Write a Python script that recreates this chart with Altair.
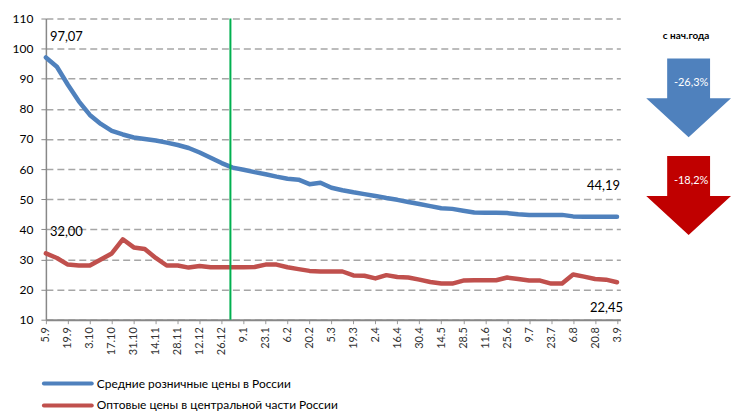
import altair as alt
import pandas as pd

# ---- data ----
tick_labels = ['5.9', '19.9', '3.10', '17.10', '31.10', '14.11', '28.11', '12.12', '26.12',
               '9.1', '23.1', '6.2', '20.2', '5.3', '19.3', '2.4', '16.4', '30.4', '14.5',
               '28.5', '11.6', '25.6', '9.7', '23.7', '6.8', '20.8', '3.9']

retail = [97.07, 94.0, 88.0, 82.5, 78.0, 75.0, 72.7, 71.5, 70.5, 70.0,
          69.5, 68.8, 68.0, 67.0, 65.5, 63.8, 62.0, 60.5, 59.8, 59.0,
          58.3, 57.5, 56.8, 56.5, 55.0, 55.5, 53.8, 53.0, 52.3, 51.7,
          51.1, 50.4, 49.8, 49.1, 48.4, 47.7, 47.0, 46.8, 46.2, 45.6,
          45.5, 45.5, 45.4, 45.0, 44.8, 44.8, 44.8, 44.8, 44.3, 44.2,
          44.2, 44.2, 44.19]

wholesale = [32.0, 30.5, 28.3, 28.0, 28.0, 30.0, 32.0, 36.7, 34.0, 33.5,
             30.5, 28.0, 28.0, 27.3, 27.8, 27.4, 27.4, 27.4, 27.4, 27.5,
             28.3, 28.3, 27.4, 26.8, 26.2, 26.0, 26.0, 26.0, 24.7, 24.6,
             23.7, 24.8, 24.2, 24.0, 23.3, 22.5, 22.0, 22.0, 23.0, 23.1,
             23.1, 23.1, 24.0, 23.5, 23.0, 23.0, 22.0, 22.0, 25.0, 24.3,
             23.5, 23.3, 22.45]

series_names = ['Средние розничные цены в России', 'Оптовые цены в центральной части России']
series_colors = ['#4F81BD', '#C0504D']
year_start_index = [16.8]
ytd_changes = ['-26,3%', '-18,2%']
arrow_colors = ['#4F81BD', '#C00000']
ytd_title = 'с нач.года'

FONT = 'Lato, Noto Sans, sans-serif'

# ---- tables ----
rows = []
for name, vals in zip(series_names, [retail, wholesale]):
    for i, v in enumerate(vals):
        rows.append({'i': i, 'v': v, 's': name})
df = pd.DataFrame(rows)

label_js = '[' + ','.join("'%s'" % t for t in tick_labels) + ']'

xscale = alt.Scale(domain=[0, 52.3], nice=False, zero=False)
yscale = alt.Scale(domain=[10, 110], nice=False, zero=False)

x_enc = alt.X('i:Q', scale=xscale, title=None,
              axis=alt.Axis(values=list(range(0, 53, 2)), tickCount=100,
                            labelExpr=label_js + '[datum.value/2]',
                            labelAngle=270, labelFontSize=11, labelFont=FONT, labelColor='#333333',
                            labelPadding=3, labelOverlap=False, labelBound=False, labelFlush=False,
                            tickSize=4, tickColor='#9A9A9A', tickWidth=1,
                            domainColor='#888888', domainWidth=2, grid=False))
y_enc = alt.Y('v:Q', scale=yscale, title=None,
              axis=alt.Axis(values=list(range(10, 111, 10)), tickCount=100,
                            labelFontSize=12, labelFont=FONT,
                            labelColor='#000000', labelPadding=8, labelOverlap=False,
                            labelBound=False, labelFlush=False, tickSize=5, tickColor='#888888',
                            domainColor='#888888', domainWidth=1.5,
                            grid=True, gridDash=[7, 4], gridColor='#A6A6A6', gridWidth=1.5))

lines = alt.Chart(df).mark_line(strokeWidth=4.5, strokeCap='round', strokeJoin='round').encode(
    x=x_enc, y=y_enc,
    color=alt.Color('s:N', scale=alt.Scale(domain=series_names, range=series_colors), legend=None),
)

green = alt.Chart(pd.DataFrame({'i': year_start_index})).mark_rule(color='#00B050', strokeWidth=2).encode(
    x=alt.X('i:Q', scale=xscale)
)

def fmt(v):
    return ('%.2f' % v).replace('.', ',')

ann = pd.DataFrame([
    {'i': 0, 'v': retail[0], 't': fmt(retail[0])},
    {'i': 0, 'v': wholesale[0], 't': fmt(wholesale[0])},
])
ann_end_top = pd.DataFrame([{'i': len(retail) - 1, 'v': retail[-1], 't': fmt(retail[-1])}])
ann_end_bot = pd.DataFrame([{'i': len(wholesale) - 1, 'v': wholesale[-1], 't': fmt(wholesale[-1])}])

ann_start = alt.Chart(ann).mark_text(align='left', baseline='middle', dx=4, dy=-21,
                                     fontSize=13, font=FONT, color='#000000').encode(
    x=alt.X('i:Q', scale=xscale), y=alt.Y('v:Q', scale=yscale), text='t:N')
ann_top = alt.Chart(ann_end_top).mark_text(align='right', baseline='middle', dx=3, dy=-31,
                                           fontSize=13, font=FONT, color='#000000').encode(
    x=alt.X('i:Q', scale=xscale), y=alt.Y('v:Q', scale=yscale), text='t:N')
ann_bot = alt.Chart(ann_end_bot).mark_text(align='right', baseline='middle', dx=6, dy=26,
                                           fontSize=13, font=FONT, color='#000000').encode(
    x=alt.X('i:Q', scale=xscale), y=alt.Y('v:Q', scale=yscale), text='t:N')

# ---- right-side arrows ----
arrow_path = 'M -0.506 -0.93 L 0.506 -0.93 L 0.506 0.012 L 1 0.012 L 0 0.93 L -1 0.012 L -0.506 0.012 Z'
arrow_layers = []
for k, (lab, col) in enumerate(zip(ytd_changes, arrow_colors)):
    cy = 79.5 + 98 * k
    one = pd.DataFrame({'t': [lab]})
    arrow_layers.append(alt.Chart(one).mark_point(shape=arrow_path, size=7225, filled=True,
                                                  fill=col, opacity=1, strokeWidth=0).encode(
        x=alt.value(644.5), y=alt.value(cy)))
    arrow_layers.append(alt.Chart(one).mark_text(align='center', baseline='middle', fontSize=11,
                                                 font=FONT, color='#FFFFFF').encode(
        x=alt.value(647), y=alt.value(cy - 15), text='t:N'))

title_layer = alt.Chart(pd.DataFrame({'t': [ytd_title]})).mark_text(
    align='center', baseline='middle', fontSize=10, fontWeight='bold', font=FONT, color='#000000'
).encode(x=alt.value(642), y=alt.value(18), text='t:N')

# ---- legend ----
legend_layers = []
for k, (name, col) in enumerate(zip(series_names, series_colors)):
    ly = 366 + 22 * k
    one = pd.DataFrame({'t': [name]})
    legend_layers.append(alt.Chart(one).mark_rule(strokeWidth=4, color=col, strokeCap='round').encode(
        x=alt.value(-2), x2=alt.value(46), y=alt.value(ly)))
    legend_layers.append(alt.Chart(one).mark_text(align='left', baseline='middle', fontSize=12,
                                                  font=FONT, color='#000000').encode(
        x=alt.value(51), y=alt.value(ly), text='t:N'))

chart = alt.layer(lines, green, ann_start, ann_top, ann_bot, title_layer,
                  *arrow_layers, *legend_layers).properties(
    width=576, height=302,
    autosize=alt.AutoSizeParams(type='none'),
    padding={'left': 38, 'top': 10, 'right': 112, 'bottom': 92},
).configure_view(stroke=None)

chart.save('out.html', embed_options={'renderer': 'svg', 'actions': False})
